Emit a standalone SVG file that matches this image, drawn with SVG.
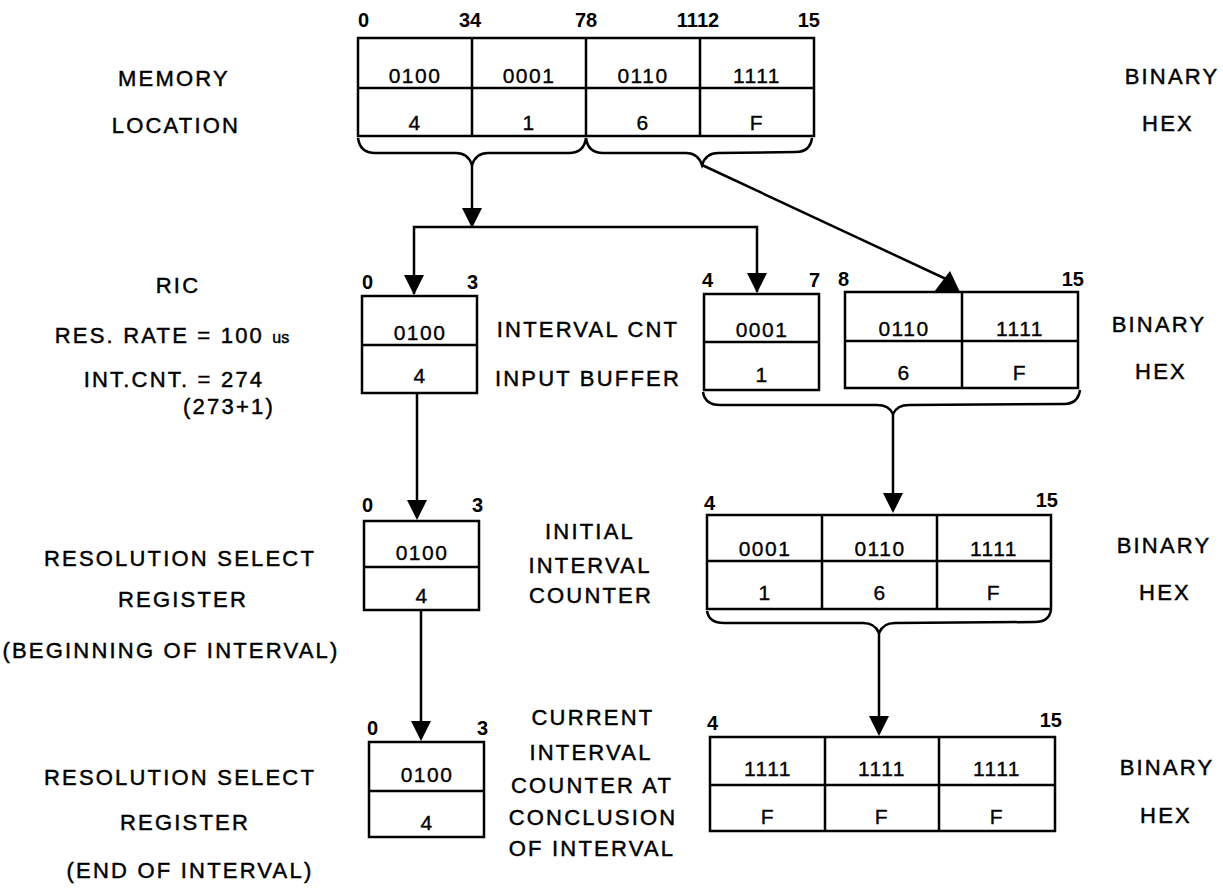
<svg xmlns="http://www.w3.org/2000/svg" xmlns:xlink="http://www.w3.org/1999/xlink" width="1223" height="888" viewBox="0 0 1223 888">
<style>
.bx{fill:none;stroke:#000;stroke-width:2.5}
.ln{fill:none;stroke:#000;stroke-width:2.5}
.c{font-family:"Liberation Sans",Arial,sans-serif;font-size:21px;text-anchor:middle;letter-spacing:1.5px;fill:#000;stroke:#000;stroke-width:0.35}
.n{font-family:"Liberation Sans",Arial,sans-serif;font-size:20px;font-weight:bold;fill:#000}
.l{font-family:"Liberation Sans",Arial,sans-serif;font-size:22px;text-anchor:middle;letter-spacing:2.2px;fill:#000;stroke:#000;stroke-width:0.45}
.ah{fill:#000}
</style>
<defs>
<path id="ah" d="M-10,-20 L10,-20 L0,0 Z"/>
</defs>
<rect width="1223" height="888" fill="#fff"/>

<g id="labels-left">
<text class="l" x="174" y="86">MEMORY</text>
<text class="l" x="176" y="133">LOCATION</text>
<text class="l" x="178" y="293">RIC</text>
<text class="l" x="172" y="343">RES. RATE = 100 <tspan style="font-size:16px;letter-spacing:0">us</tspan></text>
<text class="l" x="174" y="387">INT.CNT. = 274</text>
<text class="l" x="229" y="414">(273+1)</text>
<text class="l" x="180" y="566">RESOLUTION SELECT</text>
<text class="l" x="183" y="607">REGISTER</text>
<text class="l" x="171" y="658">(BEGINNING OF INTERVAL)</text>
<text class="l" x="180" y="785">RESOLUTION SELECT</text>
<text class="l" x="185" y="830">REGISTER</text>
<text class="l" x="190" y="878">(END OF INTERVAL)</text>
</g>

<g id="labels-mid">
<text class="l" x="588" y="337">INTERVAL CNT</text>
<text class="l" x="588" y="386">INPUT BUFFER</text>
<text class="l" x="590" y="539">INITIAL</text>
<text class="l" x="590" y="573">INTERVAL</text>
<text class="l" x="591" y="603">COUNTER</text>
<text class="l" x="593" y="725">CURRENT</text>
<text class="l" x="591" y="760">INTERVAL</text>
<text class="l" x="592" y="793">COUNTER AT</text>
<text class="l" x="593" y="825">CONCLUSION</text>
<text class="l" x="592" y="856">OF  INTERVAL</text>
</g>

<g id="labels-right">
<text class="l" x="1172" y="84">BINARY</text>
<text class="l" x="1168" y="131">HEX</text>
<text class="l" x="1159" y="332">BINARY</text>
<text class="l" x="1161" y="379">HEX</text>
<text class="l" x="1164" y="553">BINARY</text>
<text class="l" x="1165" y="600">HEX</text>
<text class="l" x="1167" y="775">BINARY</text>
<text class="l" x="1166" y="823">HEX</text>
</g>

<g id="memory-location">
<rect class="bx" x="358" y="38" width="456" height="98"/>
<path class="ln" d="M358,88 H814 M472,38 V136 M586,38 V136 M700,38 V136"/>
<text class="n" x="358" y="27">0</text>
<text class="n" x="470" y="27" text-anchor="middle">34</text>
<text class="n" x="586" y="27" text-anchor="middle">78</text>
<text class="n" x="698" y="27" text-anchor="middle">1112</text>
<text class="n" x="820" y="27" text-anchor="end">15</text>
<text class="c" x="415" y="83">0100</text>
<text class="c" x="529" y="83">0001</text>
<text class="c" x="643" y="83">0110</text>
<text class="c" x="757" y="83">1111</text>
<text class="c" x="415" y="130">4</text>
<text class="c" x="529" y="130">1</text>
<text class="c" x="643" y="130">6</text>
<text class="c" x="757" y="130">F</text>
</g>

<g id="ric">
<rect class="bx" x="362" y="296" width="115" height="97"/>
<path class="ln" d="M362,345 H477"/>
<text class="n" x="362" y="289">0</text>
<text class="n" x="478" y="289" text-anchor="end">3</text>
<text class="c" x="420" y="340">0100</text>
<text class="c" x="420" y="383">4</text>
</g>

<g id="interval-cnt-4-7">
<rect class="bx" x="704" y="294" width="115" height="96"/>
<path class="ln" d="M704,342 H819"/>
<text class="n" x="702" y="287">4</text>
<text class="n" x="820" y="287" text-anchor="end">7</text>
<text class="c" x="762" y="337">0001</text>
<text class="c" x="762" y="382">1</text>
</g>

<g id="interval-cnt-8-15">
<rect class="bx" x="845" y="292" width="233" height="96"/>
<path class="ln" d="M845,341 H1078 M962,292 V388"/>
<text class="n" x="838" y="286">8</text>
<text class="n" x="1084" y="286" text-anchor="end">15</text>
<text class="c" x="904" y="336">0110</text>
<text class="c" x="1020" y="336">1111</text>
<text class="c" x="904" y="380">6</text>
<text class="c" x="1020" y="380">F</text>
</g>

<g id="rsr-begin">
<rect class="bx" x="364" y="521" width="115" height="89"/>
<path class="ln" d="M364,567 H479"/>
<text class="n" x="362" y="512">0</text>
<text class="n" x="483" y="512" text-anchor="end">3</text>
<text class="c" x="422" y="560">0100</text>
<text class="c" x="422" y="603">4</text>
</g>

<g id="initial-interval-counter">
<rect class="bx" x="707" y="515" width="344" height="94"/>
<path class="ln" d="M707,561 H1051 M822,515 V609 M937,515 V609"/>
<text class="n" x="704" y="510">4</text>
<text class="n" x="1058" y="507" text-anchor="end">15</text>
<text class="c" x="765" y="556">0001</text>
<text class="c" x="880" y="556">0110</text>
<text class="c" x="994" y="556">1111</text>
<text class="c" x="765" y="600">1</text>
<text class="c" x="880" y="600">6</text>
<text class="c" x="994" y="600">F</text>
</g>

<g id="rsr-end">
<rect class="bx" x="369" y="742" width="115" height="95"/>
<path class="ln" d="M369,791 H484"/>
<text class="n" x="367" y="735">0</text>
<text class="n" x="488" y="735" text-anchor="end">3</text>
<text class="c" x="427" y="782">0100</text>
<text class="c" x="427" y="830">4</text>
</g>

<g id="current-interval-counter">
<rect class="bx" x="710" y="737" width="345" height="94"/>
<path class="ln" d="M710,785 H1055 M825,737 V831 M939,737 V831"/>
<text class="n" x="707" y="730">4</text>
<text class="n" x="1062" y="727" text-anchor="end">15</text>
<text class="c" x="768" y="776">1111</text>
<text class="c" x="882" y="776">1111</text>
<text class="c" x="997" y="776">1111</text>
<text class="c" x="768" y="824">F</text>
<text class="c" x="882" y="824">F</text>
<text class="c" x="997" y="824">F</text>
</g>

<g id="connectors">
<path class="ln" d="M358,138 Q360,153 375,153 L456,153 Q468,153 472,165 Q476,153 488,153 L569,153 Q584,153 586,138"/>
<path class="ln" d="M586,138 Q588,153 603,153 L686,153 Q698,153 702,165 Q706,153 718,153 L796,152 Q810,152 812,138"/>
<path class="ln" d="M472,165 V226"/>
<use href="#ah" x="472" y="228"/>
<path class="ln" d="M414,294 V227 H757 V292"/>
<use href="#ah" x="414" y="295"/>
<use href="#ah" x="757" y="293"/>
<path class="ln" d="M702,165 L946,279"/>
<polygon class="ah" points="934,292 960,292 950,271"/>
<path class="ln" d="M703,392 Q705,405 720,405 L877,405 Q889,405 893,414 Q897,405 909,405 L1064,404 Q1078,404 1080,390"/>
<path class="ln" d="M893,414 V510"/>
<use href="#ah" x="893" y="513"/>
<path class="ln" d="M707,611 Q709,623 724,623 L863,623 Q875,623 879,633 Q883,623 895,623 L1035,622 Q1049,622 1051,610"/>
<path class="ln" d="M879,633 V733"/>
<use href="#ah" x="879" y="736"/>
<path class="ln" d="M417,393 V517"/>
<use href="#ah" x="417" y="520"/>
<path class="ln" d="M421,610 V738"/>
<use href="#ah" x="421" y="741"/>
</g>
</svg>
